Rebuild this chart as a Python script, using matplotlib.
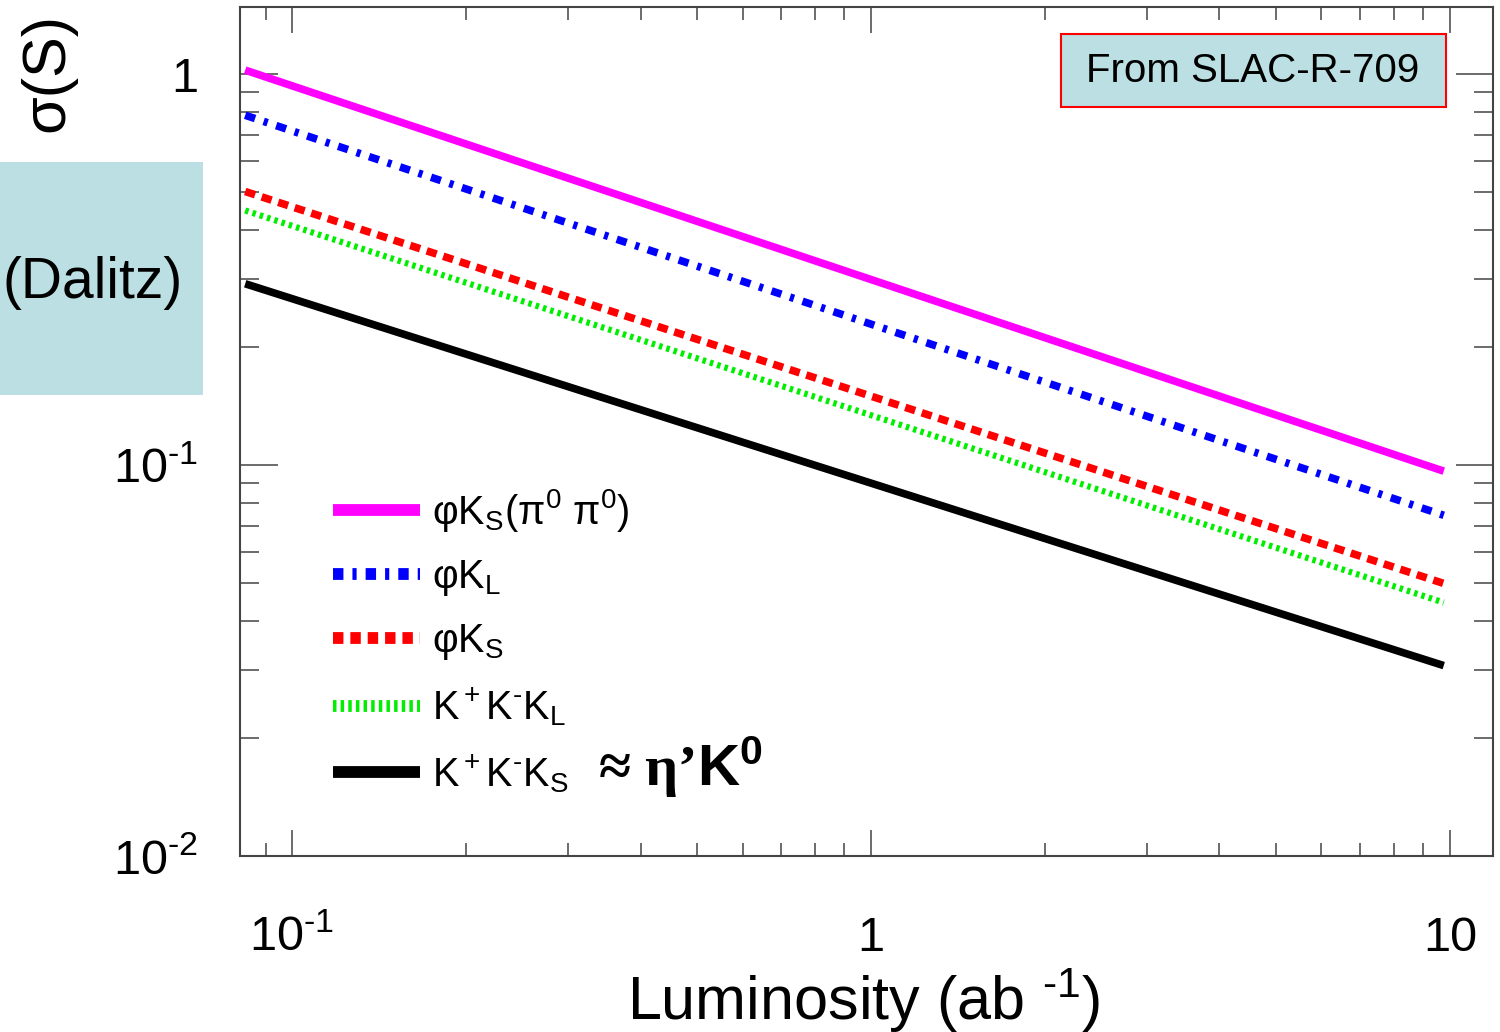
import numpy as np
import matplotlib.pyplot as plt
from matplotlib.patches import Rectangle

plt.rcParams['font.family'] = 'Liberation Sans'
plt.rcParams['mathtext.fontset'] = 'custom'
plt.rcParams['mathtext.rm'] = 'Liberation Sans'
plt.rcParams['mathtext.it'] = 'Liberation Sans:italic'
plt.rcParams['mathtext.bf'] = 'Liberation Sans:bold'
plt.rcParams['lines.scale_dashes'] = False

# luminosity (ab^-1) at the two ends of each projection line
lumi = [0.083, 9.76]
# expected sigma(S)
sig_phiks_pi0 = [1.024, 0.0965]
sig_phikl = [0.785, 0.0744]
sig_phiks = [0.501, 0.0498]
sig_kkkl = [0.448, 0.0445]
sig_kkks = [0.291, 0.0307]

labels = ['φK$_\\mathrm{S}$(π$^0$ π$^0$)', 'φK$_\\mathrm{L}$', 'φK$_\\mathrm{S}$',
          'K$^+$K$^{\\text{-}}$K$_\\mathrm{L}$', 'K$^+$K$^{\\text{-}}$K$_\\mathrm{S}$']

xticks = [0.1, 1, 10]
xticklabels = ['$10^{\\text{-}1}$', '1', '10']
yticks = [0.01, 0.1, 1]
yticklabels = ['$10^{\\text{-}2}$', '$10^{\\text{-}1}$', '1']

fig = plt.figure(figsize=(15, 10.32), dpi=100)
ax = fig.add_axes([0.16, 0.1705, 0.8353, 0.8227])

ax.plot(lumi, sig_phiks_pi0, color='#ff00ff', lw=5.5, label=labels[0], solid_capstyle='butt')
ax.plot(lumi, sig_phikl, color='#0000ff', lw=5.5, dashes=(7.5, 6.5, 3, 6.5), label=labels[1])
ax.plot(lumi, sig_phiks, color='#ff0000', lw=5.5, dashes=(7.5, 5), label=labels[2])
ax.plot(lumi, sig_kkkl, color='#00ee00', lw=4.5, dashes=(2.5, 3), label=labels[3])
ax.plot(lumi, sig_kkks, color='black', lw=5.5, label=labels[4], solid_capstyle='butt')

ax.set_xscale('log')
ax.set_yscale('log')
ax.set_xlim(0.0813, 11.87)
ax.set_ylim(0.01, 1.485)
ax.set_xticks(xticks, xticklabels)
ax.set_yticks(yticks, yticklabels)
ax.xaxis.set_minor_formatter(plt.NullFormatter())
ax.yaxis.set_minor_formatter(plt.NullFormatter())

ax.tick_params(which='both', direction='in', top=True, right=True, color='#444444', width=1.1, labelsize=35)
ax.tick_params(axis='x', which='major', length=19, pad=43)
ax.tick_params(axis='x', which='minor', length=9.5)
ax.tick_params(axis='y', which='major', length=27, pad=30)
ax.tick_params(axis='y', which='minor', length=13.5)
for s in ax.spines.values():
    s.set_color('#444444')
    s.set_linewidth(1.5)

leg = ax.legend(loc='upper left', bbox_to_anchor=(333 / 1500, 1 - 487 / 1032),
                bbox_transform=fig.transFigure, frameon=False, fontsize=28.5,
                handlelength=2.2, handletextpad=0.3, labelspacing=0.6,
                borderpad=0, borderaxespad=0)
for ln in leg.get_lines():
    ln.set_linewidth(8.5)

fig.text(598 / 1500, 1 - 786 / 1032, '≈ η’$\\mathbf{K}^{\\mathbf{0}}$', family='Liberation Serif',
         weight='bold', fontsize=42, va='baseline', ha='left')

# boxes copied from the slide
fig.add_artist(Rectangle((1061 / 1500, 1 - 107 / 1032), 385 / 1500, 73 / 1032,
                         transform=fig.transFigure, facecolor='#bbdfe2', edgecolor='red', lw=1.5))
fig.text(1253 / 1500, 1 - 71 / 1032, 'From SLAC-R-709', fontsize=29, ha='center', va='center')
fig.add_artist(Rectangle((0, 1 - 395 / 1032), 203 / 1500, 233 / 1032,
                         transform=fig.transFigure, facecolor='#bbdfe2', edgecolor='none'))
fig.text(183 / 1500, 1 - 283 / 1032, '(Dalitz)', fontsize=41, ha='right', va='center')

fig.text(48 / 1500, 1 - 72 / 1032, 'σ(S)', fontsize=44, rotation=90, ha='center', va='center')
fig.text(864 / 1500, 1 - 1020 / 1032, 'Luminosity (ab $^{\\text{-}1}$)', fontsize=44, ha='center', va='baseline')

fig.savefig('out.png', dpi=100)
